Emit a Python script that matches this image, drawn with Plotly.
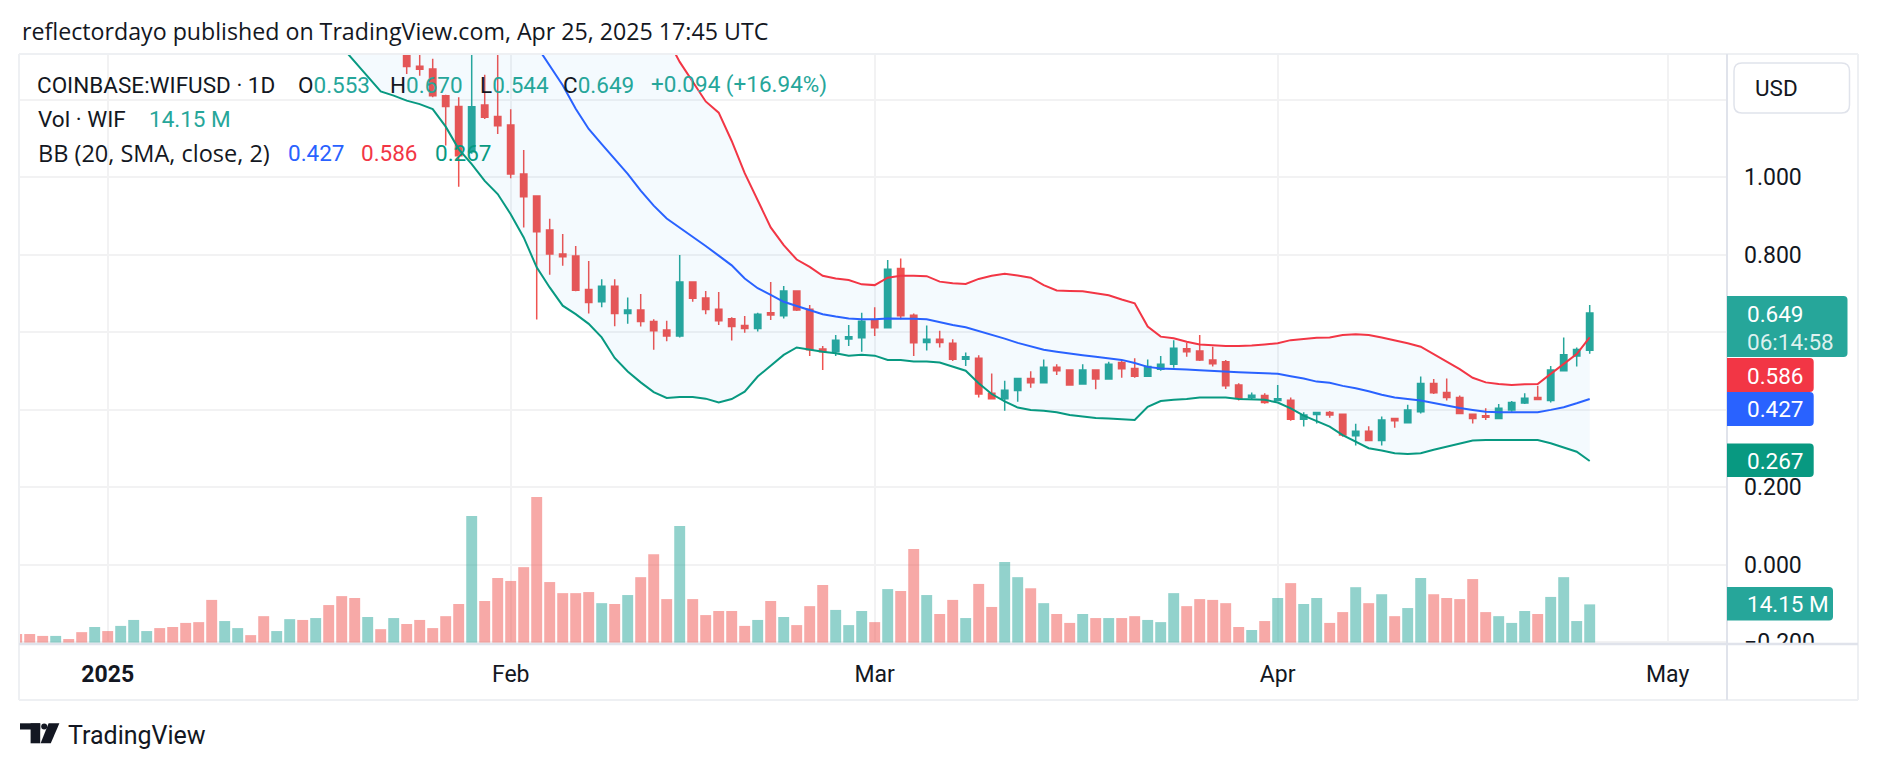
import pandas as pd
import plotly.graph_objects as go

# ---------------- data ----------------
candle_start = "2025-01-24"
opens = [1.34, 1.286, 1.279, 1.210, 1.182, 1.065, 1.186, 1.156, 1.134, 1.008,
         0.951, 0.863, 0.801, 0.796, 0.710, 0.678, 0.718, 0.648, 0.657, 0.627,
         0.605, 0.590, 0.729, 0.688, 0.659, 0.634, 0.617, 0.609, 0.650, 0.642,
         0.706, 0.659, 0.556, 0.549, 0.582, 0.585, 0.631, 0.611, 0.764, 0.643,
         0.573, 0.581, 0.571, 0.530, 0.532, 0.442, 0.428, 0.449, 0.480, 0.469,
         0.509, 0.502, 0.466, 0.502, 0.479, 0.521, 0.506, 0.486, 0.504, 0.517,
         0.557, 0.551, 0.528, 0.523, 0.463, 0.431, 0.436, 0.423, 0.424, 0.375,
         0.387, 0.392, 0.388, 0.332, 0.344, 0.320, 0.377, 0.366, 0.394, 0.467,
         0.444, 0.431, 0.388, 0.384, 0.377, 0.399, 0.417, 0.431, 0.423, 0.500,
         0.538, 0.553]
highs = [1.36, 1.34, 1.305, 1.212, 1.206, 1.36, 1.264, 1.34, 1.175, 1.070,
         0.953, 0.892, 0.853, 0.822, 0.783, 0.736, 0.736, 0.689, 0.698, 0.633,
         0.629, 0.799, 0.730, 0.706, 0.703, 0.638, 0.641, 0.650, 0.729, 0.719,
         0.707, 0.670, 0.564, 0.592, 0.618, 0.650, 0.664, 0.786, 0.790, 0.648,
         0.617, 0.603, 0.581, 0.547, 0.540, 0.493, 0.474, 0.481, 0.499, 0.529,
         0.517, 0.503, 0.517, 0.503, 0.523, 0.525, 0.532, 0.529, 0.538, 0.579,
         0.572, 0.592, 0.562, 0.528, 0.468, 0.444, 0.442, 0.463, 0.431, 0.393,
         0.393, 0.396, 0.389, 0.363, 0.357, 0.382, 0.378, 0.412, 0.485, 0.479,
         0.480, 0.436, 0.389, 0.403, 0.414, 0.422, 0.442, 0.461, 0.512, 0.586,
         0.560, 0.670]
lows = [1.266, 1.261, 1.206, 1.081, 0.975, 1.060, 1.150, 1.111, 0.997, 0.870,
        0.632, 0.748, 0.771, 0.705, 0.648, 0.664, 0.615, 0.621, 0.614, 0.554,
        0.576, 0.586, 0.678, 0.646, 0.618, 0.578, 0.598, 0.601, 0.631, 0.635,
        0.654, 0.538, 0.502, 0.538, 0.564, 0.549, 0.590, 0.609, 0.633, 0.538,
        0.552, 0.560, 0.525, 0.512, 0.431, 0.427, 0.397, 0.420, 0.456, 0.468,
        0.489, 0.461, 0.465, 0.452, 0.478, 0.482, 0.482, 0.485, 0.500, 0.508,
        0.536, 0.525, 0.511, 0.453, 0.423, 0.427, 0.415, 0.422, 0.371, 0.356,
        0.364, 0.379, 0.330, 0.307, 0.319, 0.307, 0.353, 0.365, 0.390, 0.440,
        0.423, 0.389, 0.364, 0.373, 0.376, 0.394, 0.414, 0.425, 0.418, 0.499,
        0.511, 0.544]
closes = [1.285, 1.278, 1.210, 1.182, 1.055, 1.181, 1.154, 1.132, 1.008, 0.949,
          0.859, 0.801, 0.794, 0.708, 0.676, 0.718, 0.648, 0.657, 0.627, 0.603,
          0.590, 0.729, 0.687, 0.658, 0.629, 0.614, 0.609, 0.646, 0.644, 0.706,
          0.657, 0.554, 0.549, 0.579, 0.588, 0.628, 0.611, 0.762, 0.642, 0.572,
          0.581, 0.573, 0.530, 0.536, 0.440, 0.428, 0.450, 0.480, 0.469, 0.509,
          0.500, 0.463, 0.502, 0.479, 0.517, 0.505, 0.486, 0.511, 0.517, 0.558,
          0.549, 0.528, 0.518, 0.461, 0.429, 0.437, 0.418, 0.428, 0.375, 0.386,
          0.392, 0.386, 0.334, 0.344, 0.320, 0.373, 0.371, 0.399, 0.467, 0.443,
          0.431, 0.390, 0.377, 0.380, 0.403, 0.418, 0.429, 0.426, 0.502, 0.541,
          0.555, 0.649]

volume_start = "2024-12-25"
volumes_m = [3.2, 3.2, 2.5, 2.5, 1.35, 3.9, 5.8, 4.3, 6.2, 8.4,
             4.3, 5.4, 5.8, 7.3, 7.6, 15.8, 8.0, 5.4, 2.8, 9.8,
             4.3, 8.7, 8.4, 9.1, 13.9, 17.2, 16.5, 9.5, 5.0, 9.1,
             6.9, 8.4, 5.4, 9.8, 14.3, 46.8, 15.4, 23.9, 22.8, 27.9,
             53.8, 22.4, 18.3, 18.3, 18.7, 14.6, 14.3, 17.6, 24.2, 32.7,
             16.1, 43.1, 16.1, 10.2, 11.7, 11.7, 6.2, 8.4, 15.4, 9.5,
             6.5, 13.5, 21.3, 12.1, 6.5, 11.7, 7.6, 19.8, 19.1, 34.6,
             17.6, 10.6, 15.8, 9.1, 21.7, 13.2, 29.8, 24.2, 20.1, 14.6,
             10.6, 7.3, 10.6, 9.1, 9.1, 9.1, 9.8, 8.4, 7.6, 18.3,
             13.5, 16.1, 15.8, 14.6, 5.8, 4.7, 8.0, 16.5, 22.0, 14.3,
             16.5, 7.3, 11.3, 20.5, 14.6, 17.9, 9.8, 12.8, 23.9, 17.9,
             16.5, 16.1, 23.5, 11.3, 9.8, 7.3, 11.7, 10.6, 16.9, 24.2,
             8.0, 14.15]
volume_up = [0, 0, 0, 1, 0, 0, 1, 0, 1, 1,
             1, 0, 0, 0, 0, 0, 1, 1, 0, 0,
             1, 1, 0, 1, 0, 0, 0, 1, 0, 1,
             0, 0, 0, 0, 0, 1, 0, 0, 0, 0,
             0, 0, 0, 0, 0, 1, 0, 1, 0, 0,
             0, 1, 0, 0, 0, 0, 0, 1, 0, 1,
             0, 0, 0, 1, 1, 1, 0, 1, 0, 0,
             1, 0, 0, 1, 0, 0, 1, 1, 0, 1,
             0, 0, 1, 0, 1, 0, 0, 1, 1, 1,
             0, 0, 0, 0, 0, 1, 0, 1, 0, 1,
             1, 0, 0, 1, 0, 1, 0, 1, 1, 0,
             0, 0, 0, 0, 1, 1, 1, 0, 1, 1,
             1, 1]

bb_start = "2025-01-19"
bb_basis = [1.70, 1.69, 1.68, 1.67, 1.66, 1.65, 1.63, 1.61, 1.59, 1.56,
            1.53, 1.49, 1.45, 1.41, 1.37, 1.338, 1.288, 1.237, 1.176, 1.124,
            1.085, 1.046, 1.008, 0.965, 0.926, 0.893, 0.870, 0.845, 0.822, 0.797,
            0.772, 0.738, 0.713, 0.696, 0.678, 0.667, 0.657, 0.646, 0.640, 0.635,
            0.633, 0.633, 0.635, 0.635, 0.634, 0.633, 0.625, 0.618, 0.612, 0.603,
            0.594, 0.583, 0.572, 0.562, 0.554, 0.549, 0.544, 0.540, 0.536, 0.532,
            0.528, 0.520, 0.510, 0.506, 0.505, 0.503, 0.501, 0.499, 0.497, 0.496,
            0.495, 0.494, 0.492, 0.486, 0.480, 0.472, 0.469, 0.461, 0.455, 0.447,
            0.438, 0.431, 0.427, 0.423, 0.417, 0.410, 0.404, 0.399, 0.394, 0.393,
            0.393, 0.393, 0.393, 0.399, 0.406, 0.416, 0.427]
bb_upper = [2.05, 2.06, 2.06, 2.05, 2.03, 2.00, 1.98, 1.96, 1.95, 1.94,
            1.93, 1.92, 1.90, 1.88, 1.86, 1.83, 1.79, 1.74, 1.68, 1.62,
            1.56, 1.50, 1.45, 1.41, 1.38, 1.36, 1.297, 1.246, 1.195, 1.166,
            1.093, 1.010, 0.940, 0.870, 0.824, 0.787, 0.768, 0.745, 0.738, 0.734,
            0.723, 0.721, 0.740, 0.745, 0.745, 0.744, 0.730, 0.726, 0.724, 0.737,
            0.745, 0.750, 0.746, 0.740, 0.721, 0.707, 0.706, 0.705, 0.700, 0.695,
            0.684, 0.674, 0.614, 0.588, 0.584, 0.575, 0.568, 0.566, 0.564, 0.564,
            0.565, 0.568, 0.571, 0.579, 0.582, 0.585, 0.586, 0.592, 0.594, 0.592,
            0.586, 0.579, 0.571, 0.562, 0.543, 0.523, 0.504, 0.482, 0.470, 0.466,
            0.463, 0.465, 0.466, 0.492, 0.517, 0.543, 0.586]
bb_lower = [1.336, 1.298, 1.259, 1.221, 1.210, 1.197, 1.188, 1.175, 1.130, 1.072,
            1.033, 0.990, 0.956, 0.904, 0.844, 0.767, 0.715, 0.668, 0.646, 0.621,
            0.586, 0.533, 0.498, 0.470, 0.445, 0.430, 0.432, 0.432, 0.428, 0.418,
            0.427, 0.446, 0.485, 0.513, 0.541, 0.560, 0.554, 0.549, 0.545, 0.539,
            0.541, 0.539, 0.528, 0.528, 0.524, 0.524, 0.521, 0.511, 0.500, 0.468,
            0.440, 0.421, 0.405, 0.399, 0.397, 0.393, 0.386, 0.382, 0.378, 0.377,
            0.375, 0.373, 0.407, 0.422, 0.425, 0.427, 0.431, 0.431, 0.431, 0.427,
            0.426, 0.425, 0.418, 0.403, 0.384, 0.369, 0.356, 0.334, 0.317, 0.300,
            0.294, 0.287, 0.285, 0.287, 0.296, 0.304, 0.313, 0.320, 0.321, 0.321,
            0.321, 0.321, 0.321, 0.313, 0.302, 0.291, 0.267]

month_ticks = ["2025-01-01", "2025-02-01", "2025-03-01", "2025-04-01", "2025-05-01"]
month_labels = ["<b>2025</b>", "Feb", "Mar", "Apr", "May"]
price_ticks = [-0.2, 0.0, 0.2, 0.4, 0.6, 0.8, 1.0, 1.2]
price_tick_labels = ["−0.200", "0.000", "0.200", "", "", "0.800", "1.000", ""]

symbol = "COINBASE:WIFUSD · 1D"
ohlc_last = {"O": "0.553", "H": "0.670", "L": "0.544", "C": "0.649"}
change_text = "+0.094 (+16.94%)"
last_close, last_volume, countdown = "0.649", "14.15 M", "06:14:58"
bb_last = {"basis": "0.427", "upper": "0.586", "lower": "0.267"}
title = "reflectordayo published on TradingView.com, Apr 25, 2025 17:45 UTC"

# ---------------- styling / geometry ----------------
UP, DOWN = "#26a69a", "#ef5350"
UP_VOL, DOWN_VOL = "rgba(38,166,154,0.5)", "rgba(239,83,80,0.5)"
BLUE, RED, GREEN = "#2962ff", "#f23645", "#089981"
TXT = "#131722"
FONT = "Roboto"
WIDE_FONT = "Open Sans"
FS = 22.5
W, H = 1878, 770
PL, PR, PT, PB = 18, 1727, 54, 644
JAN1_PX, DAY_PX = 107.7, 13.0
P1_PX, PX_PER_UNIT = 177.0, 387.5
VOL_BASE_PX, PX_PER_M = 642.7, 2.708


def px(x):
    return (x - PL) / (PR - PL)


def py(y):
    return (PB - y) / (PB - PT)


candle_dates = pd.date_range(candle_start, periods=len(opens), freq="D")
volume_dates = pd.date_range(volume_start, periods=len(volumes_m), freq="D")
bb_dates = pd.date_range(bb_start, periods=len(bb_basis), freq="D")

jan1 = pd.Timestamp("2025-01-01")
x_range = [jan1 + pd.Timedelta(days=(PL - JAN1_PX) / DAY_PX),
           jan1 + pd.Timedelta(days=(PR - JAN1_PX) / DAY_PX)]
y_range = [1 - (PB - P1_PX) / PX_PER_UNIT, 1 + (P1_PX - PT) / PX_PER_UNIT]
v_range = [-(PB - VOL_BASE_PX) / PX_PER_M, (VOL_BASE_PX - PT) / PX_PER_M]

fig = go.Figure()

# Bollinger fill
fig.add_trace(go.Scatter(x=bb_dates, y=bb_upper, mode="lines", line=dict(width=0),
                         hoverinfo="skip", showlegend=False))
fig.add_trace(go.Scatter(x=bb_dates, y=bb_lower, mode="lines", line=dict(width=0),
                         fill="tonexty", fillcolor="rgba(33,150,243,0.05)",
                         hoverinfo="skip", showlegend=False))

# candles
fig.add_trace(go.Candlestick(
    x=candle_dates, open=opens, high=highs, low=lows, close=closes,
    increasing=dict(line=dict(color=UP, width=1.5), fillcolor=UP),
    decreasing=dict(line=dict(color=DOWN, width=1.5), fillcolor=DOWN),
    whiskerwidth=0, showlegend=False))

# Bollinger lines
fig.add_trace(go.Scatter(x=bb_dates, y=bb_upper, mode="lines", line=dict(color=RED, width=2),
                         showlegend=False))
fig.add_trace(go.Scatter(x=bb_dates, y=bb_basis, mode="lines", line=dict(color=BLUE, width=2),
                         showlegend=False))
fig.add_trace(go.Scatter(x=bb_dates, y=bb_lower, mode="lines", line=dict(color=GREEN, width=2),
                         showlegend=False))

# volume
fig.add_trace(go.Bar(x=volume_dates, y=volumes_m, yaxis="y2",
                     marker=dict(color=[UP_VOL if u else DOWN_VOL for u in volume_up], line=dict(width=0)),
                     showlegend=False))

shapes = []
annotations = []


def line_px(x0, y0, x1, y1, color, width):
    shapes.append(dict(type="line", xref="paper", yref="paper", x0=px(x0), y0=py(y0),
                       x1=px(x1), y1=py(y1), line=dict(color=color, width=width), layer="above"))


def box_path(x0, y0, x1, y1, rl=0.0, rr=0.0):
    def p(x, y):
        return f"{px(x):.6f},{py(y):.6f}"
    d = f"M {p(x0 + rl, y0)} L {p(x1 - rr, y0)} Q {p(x1, y0)} {p(x1, y0 + rr)} "
    d += f"L {p(x1, y1 - rr)} Q {p(x1, y1)} {p(x1 - rr, y1)} "
    d += f"L {p(x0 + rl, y1)} Q {p(x0, y1)} {p(x0, y1 - rl)} "
    d += f"L {p(x0, y0 + rl)} Q {p(x0, y0)} {p(x0 + rl, y0)} Z"
    return d


def box(x0, y0, x1, y1, fill, rl=0.0, rr=4.0, border=None):
    shapes.append(dict(type="path", xref="paper", yref="paper", path=box_path(x0, y0, x1, y1, rl, rr),
                       fillcolor=fill, line=dict(color=border or fill, width=1.5 if border else 0),
                       layer="above"))


def text(x, y, s, color=TXT, size=FS, anchor="left", family=FONT):
    annotations.append(dict(xref="paper", yref="paper", x=px(x), y=py(y), text=s, showarrow=False,
                            xanchor=anchor, yanchor="middle",
                            font=dict(family=family, size=size, color=color)))


# clip area below the pane inside the price scale, then frame lines
shapes.append(dict(type="rect", xref="paper", yref="paper", x0=px(PR + 1), x1=px(1857),
                   y0=py(700), y1=py(PB), fillcolor="white", line=dict(width=0), layer="above"))
FRAME = "#eef0f3"
SEP = "#e0e3eb"
line_px(19, PT, 1858, PT, FRAME, 2)
line_px(19, PT, 19, 700, FRAME, 2)
line_px(1858, PT, 1858, 700, FRAME, 2)
line_px(19, 700, 1858, 700, FRAME, 2)
line_px(PR, PT, PR, 700, SEP, 2)
line_px(19, PB, 1858, PB, SEP, 2.5)

# price-scale labels
box(1734, 63, 1849.5, 113, "white", rl=8, rr=8, border="#e0e3eb")
text(1752.5, 87.5, "USD")
box(PR, 296, 1847.5, 357, UP)
text(1744.5, 314, last_close, "white")
text(1744.5, 341.5, countdown, "rgba(255,255,255,0.85)")
box(PR, 358, 1813.7, 392, RED)
text(1744.5, 375.5, bb_last["upper"], "white")
box(PR, 392, 1813.7, 426, BLUE)
text(1744.5, 409, bb_last["basis"], "white")
box(PR, 443.5, 1813.7, 477, GREEN)
text(1744.5, 460.5, bb_last["lower"], "white")
box(PR, 587, 1833, 620.5, UP)
text(1744.5, 604, last_volume, "white")

# header & legend
text(20, 30.5, title, size=23.2, family=WIDE_FONT)
text(34.5, 85, symbol)
legend_x = {"O": 295.6, "H": 387.5, "L": 477.6, "C": 561}
for k, v in ohlc_last.items():
    text(legend_x[k], 85, f"{k}<span style='color:{UP}'>{v}</span>")
text(648.6, 85, change_text, UP)
text(36, 119, "Vol · WIF")
text(147, 119, last_volume, UP)
text(36, 153, "BB (20, SMA, close, 2)", size=23.5, family=WIDE_FONT)
text(285.6, 153, bb_last["basis"], BLUE)
text(359, 153, bb_last["upper"], RED)
text(432.5, 153, bb_last["lower"], GREEN)

# TradingView logo
for (x0, y0, x1, y1) in [(20, 723.3, 40.2, 729.5), (30.6, 723.3, 40.2, 743.3)]:
    shapes.append(dict(type="rect", xref="paper", yref="paper", x0=px(x0), x1=px(x1), y0=py(y1), y1=py(y0),
                       fillcolor=TXT, line=dict(width=0), layer="above"))
shapes.append(dict(type="circle", xref="paper", yref="paper", x0=px(41.2), x1=px(47.2), y0=py(729.6), y1=py(723.6),
                   fillcolor=TXT, line=dict(width=0), layer="above"))
slash = f"M {px(48.6)},{py(723.3)} L {px(59.4)},{py(723.3)} L {px(50.8)},{py(743.3)} L {px(40.6)},{py(743.3)} Z"
shapes.append(dict(type="path", xref="paper", yref="paper", path=slash, fillcolor=TXT,
                   line=dict(width=0), layer="above"))
text(66, 735, "TradingView", TXT, 25)

GRID = "#f2f2f3"
fig.update_layout(
    width=W, height=H, margin=dict(l=PL, r=W - PR, t=PT, b=H - PB),
    paper_bgcolor="white", plot_bgcolor="white",
    font=dict(family=FONT, size=23, color=TXT),
    showlegend=False, bargap=0.16, boxgap=0.3, hovermode=False,
    xaxis=dict(type="date", range=x_range, tickvals=month_ticks, ticktext=month_labels,
               showgrid=True, gridcolor=GRID, gridwidth=1.5, zeroline=False, showline=False,
               ticks="", ticklabelstandoff=14, rangeslider=dict(visible=False),
               tickfont=dict(family=FONT, size=23, color=TXT)),
    yaxis=dict(side="right", range=y_range, tickvals=price_ticks, ticktext=price_tick_labels,
               showgrid=True, gridcolor=GRID, gridwidth=1.5, zeroline=False, showline=False,
               ticks="", ticklabelstandoff=16, tickfont=dict(family=FONT, size=23, color=TXT)),
    yaxis2=dict(overlaying="y", range=v_range, visible=False, showgrid=False),
    shapes=shapes, annotations=annotations,
)

fig.write_html("out.html")
